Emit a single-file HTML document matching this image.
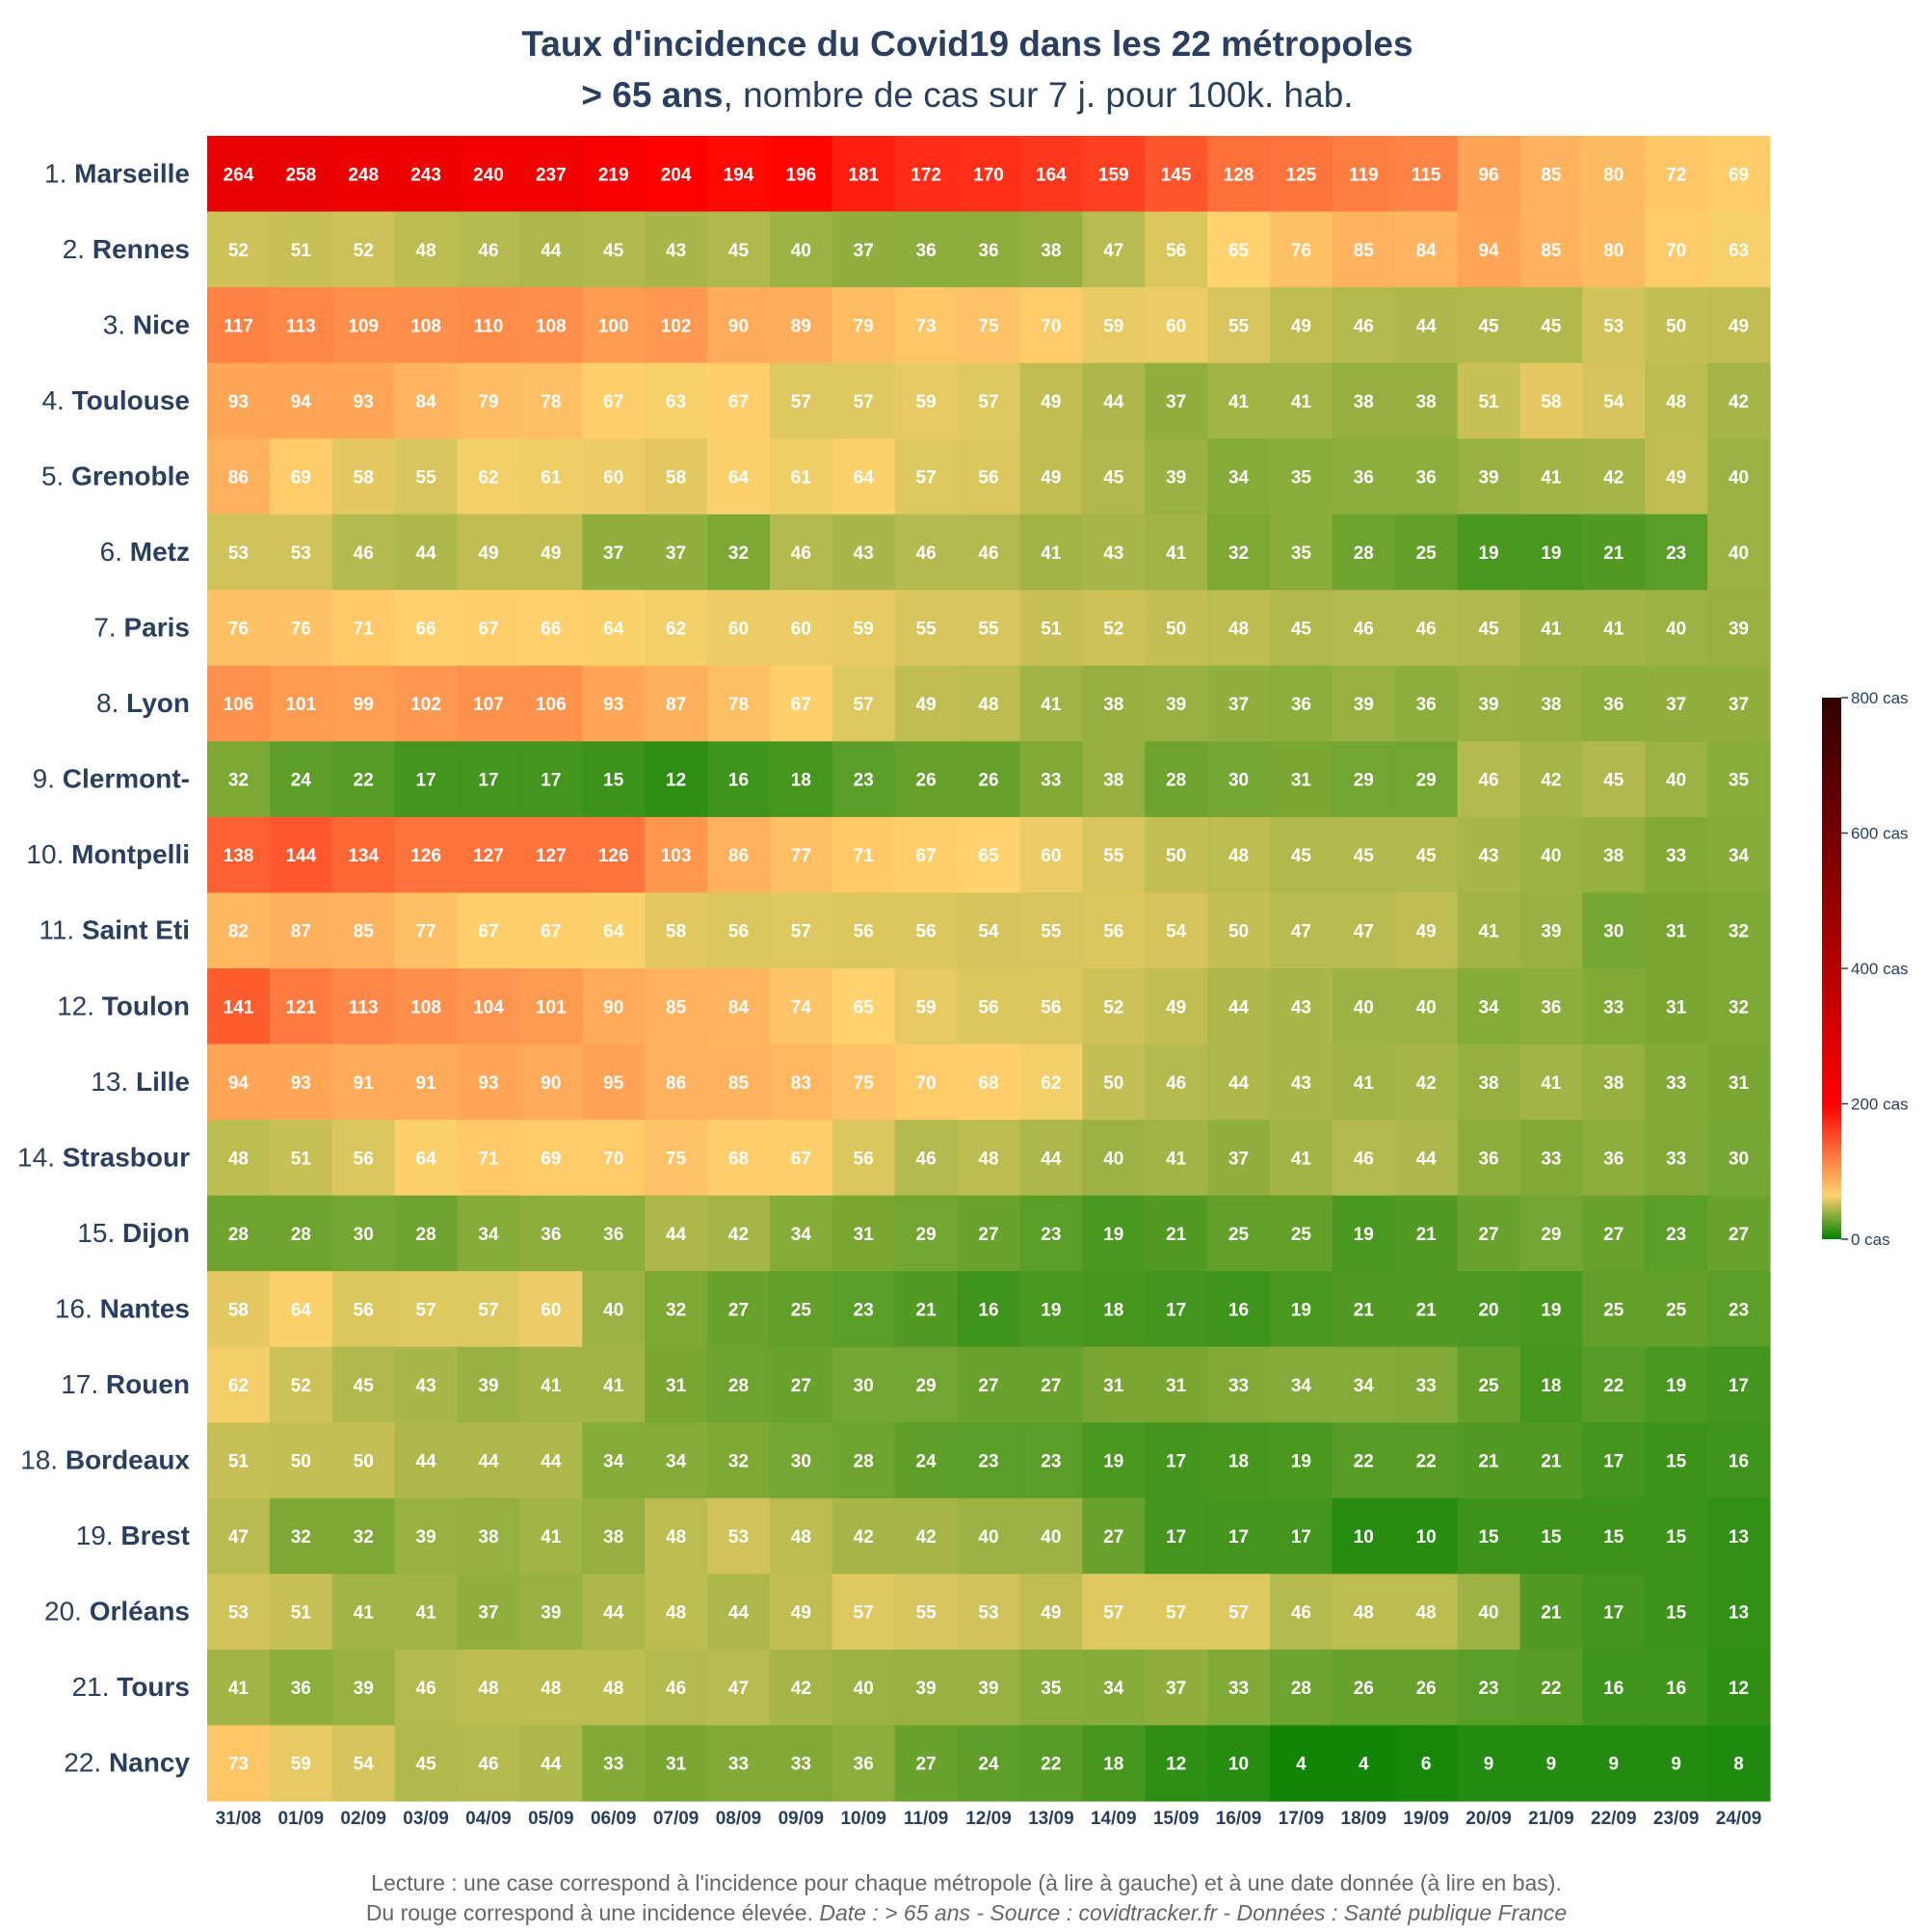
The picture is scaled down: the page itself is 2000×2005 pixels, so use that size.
<!DOCTYPE html>
<html lang="fr">
<head>
<meta charset="utf-8">
<style>
  html,body{margin:0;padding:0;background:#fff;}
  body{width:2000px;height:2000px;overflow:hidden;font-family:"Liberation Sans",sans-serif;}
  svg text{font-family:"Liberation Sans",sans-serif;}
</style>
</head>
<body>
<svg id="chart" width="2000" height="2000" viewBox="0 0 2000 2000" xmlns="http://www.w3.org/2000/svg">
  <rect x="0" y="0" width="2000" height="2000" fill="#fff"/>
  <text x="1004" y="58" text-anchor="middle" font-size="37" font-weight="bold" fill="#2a3f5f">Taux d'incidence du Covid19 dans les 22 métropoles</text>
  <text x="1004" y="111" text-anchor="middle" font-size="37" fill="#2a3f5f"><tspan font-weight="bold">&gt; 65 ans</tspan>, nombre de cas sur 7 j. pour 100k. hab.</text>
  <g id="cells"></g>
  <g id="ylabels"></g>
  <g id="xlabels"></g>
  <defs>
    <linearGradient id="cbgrad" x1="0" y1="1" x2="0" y2="0">
      <stop offset="0" stop-color="rgb(0,128,0)"/>
      <stop offset="0.081" stop-color="rgb(255,210,110)"/>
      <stop offset="0.25" stop-color="rgb(255,0,0)"/>
      <stop offset="0.5" stop-color="rgb(180,0,0)"/>
      <stop offset="1" stop-color="rgb(50,0,0)"/>
    </linearGradient>
  </defs>
  <g id="colorbar">
    <rect x="1891" y="724" width="20" height="562" fill="url(#cbgrad)"/>
  </g>
  <text x="1003" y="1962" text-anchor="middle" font-size="23" fill="#666">Lecture : une case correspond à l'incidence pour chaque métropole (à lire à gauche) et à une date donnée (à lire en bas).</text>
  <text x="1003" y="1993" text-anchor="middle" font-size="23" fill="#666">Du rouge correspond à une incidence élevée.  <tspan font-style="italic">Date : &gt; 65 ans - Source : covidtracker.fr - Données : Santé publique France</tspan></text>
</svg>
<script>
const dates = ["31/08","01/09","02/09","03/09","04/09","05/09","06/09","07/09","08/09","09/09","10/09","11/09","12/09","13/09","14/09","15/09","16/09","17/09","18/09","19/09","20/09","21/09","22/09","23/09","24/09"];
const rankLabels = ["1.","2.","3.","4.","5.","6.","7.","8.","9.","10.","11.","12.","13.","14.","15.","16.","17.","18.","19.","20.","21.","22."];
const cities = ["Marseille","Rennes","Nice","Toulouse","Grenoble","Metz","Paris","Lyon","Clermont-","Montpelli","Saint Eti","Toulon","Lille","Strasbour","Dijon","Nantes","Rouen","Bordeaux","Brest","Orléans","Tours","Nancy"];
const marseille = [264,258,248,243,240,237,219,204,194,196,181,172,170,164,159,145,128,125,119,115,96,85,80,72,69];
const rennes = [52,51,52,48,46,44,45,43,45,40,37,36,36,38,47,56,65,76,85,84,94,85,80,70,63];
const nice = [117,113,109,108,110,108,100,102,90,89,79,73,75,70,59,60,55,49,46,44,45,45,53,50,49];
const toulouse = [93,94,93,84,79,78,67,63,67,57,57,59,57,49,44,37,41,41,38,38,51,58,54,48,42];
const grenoble = [86,69,58,55,62,61,60,58,64,61,64,57,56,49,45,39,34,35,36,36,39,41,42,49,40];
const metz = [53,53,46,44,49,49,37,37,32,46,43,46,46,41,43,41,32,35,28,25,19,19,21,23,40];
const paris = [76,76,71,66,67,66,64,62,60,60,59,55,55,51,52,50,48,45,46,46,45,41,41,40,39];
const lyon = [106,101,99,102,107,106,93,87,78,67,57,49,48,41,38,39,37,36,39,36,39,38,36,37,37];
const clermont = [32,24,22,17,17,17,15,12,16,18,23,26,26,33,38,28,30,31,29,29,46,42,45,40,35];
const montpellier = [138,144,134,126,127,127,126,103,86,77,71,67,65,60,55,50,48,45,45,45,43,40,38,33,34];
const saintEtienne = [82,87,85,77,67,67,64,58,56,57,56,56,54,55,56,54,50,47,47,49,41,39,30,31,32];
const toulon = [141,121,113,108,104,101,90,85,84,74,65,59,56,56,52,49,44,43,40,40,34,36,33,31,32];
const lille = [94,93,91,91,93,90,95,86,85,83,75,70,68,62,50,46,44,43,41,42,38,41,38,33,31];
const strasbourg = [48,51,56,64,71,69,70,75,68,67,56,46,48,44,40,41,37,41,46,44,36,33,36,33,30];
const dijon = [28,28,30,28,34,36,36,44,42,34,31,29,27,23,19,21,25,25,19,21,27,29,27,23,27];
const nantes = [58,64,56,57,57,60,40,32,27,25,23,21,16,19,18,17,16,19,21,21,20,19,25,25,23];
const rouen = [62,52,45,43,39,41,41,31,28,27,30,29,27,27,31,31,33,34,34,33,25,18,22,19,17];
const bordeaux = [51,50,50,44,44,44,34,34,32,30,28,24,23,23,19,17,18,19,22,22,21,21,17,15,16];
const brest = [47,32,32,39,38,41,38,48,53,48,42,42,40,40,27,17,17,17,10,10,15,15,15,15,13];
const orleans = [53,51,41,41,37,39,44,48,44,49,57,55,53,49,57,57,57,46,48,48,40,21,17,15,13];
const tours = [41,36,39,46,48,48,48,46,47,42,40,39,39,35,34,37,33,28,26,26,23,22,16,16,12];
const nancy = [73,59,54,45,46,44,33,31,33,33,36,27,24,22,18,12,10,4,4,6,9,9,9,9,8];
const values = [marseille,rennes,nice,toulouse,grenoble,metz,paris,lyon,clermont,montpellier,saintEtienne,toulon,lille,strasbourg,dijon,nantes,rouen,bordeaux,brest,orleans,tours,nancy];
const cbTicks = [0,200,400,600,800];

const NS = "http://www.w3.org/2000/svg";
const plot = {left:215, right:1837, top:141, bottom:1869};
const cw = (plot.right - plot.left) / dates.length;
const ch = (plot.bottom - plot.top) / cities.length;
function xPos(i){ return plot.left + i * cw; }
function yPos(j){ return plot.top + j * ch; }

const stops = [[0,[0,128,0]],[65,[255,210,110]],[200,[255,0,0]],[400,[180,0,0]],[800,[50,0,0]]];
function colorFor(v){
  for (let k = 0; k < stops.length - 1; k++) {
    const a = stops[k], b = stops[k+1];
    if (v <= b[0]) {
      const t = Math.max(0, (v - a[0]) / (b[0] - a[0]));
      const c = a[1].map((x, n) => Math.round(x + (b[1][n] - x) * t));
      return "rgb(" + c.join(",") + ")";
    }
  }
  return "rgb(50,0,0)";
}
function mk(tag, attrs, parent){
  const e = document.createElementNS(NS, tag);
  for (const k in attrs) e.setAttribute(k, attrs[k]);
  parent.appendChild(e);
  return e;
}

const cellsG = document.getElementById("cells");
values.forEach((row, j) => {
  row.forEach((v, i) => {
    const r = mk("rect", {x: xPos(i), y: yPos(j), width: cw + 0.6, height: ch + 0.6, fill: colorFor(v)}, cellsG);
    
    
    const t = mk("text", {x: xPos(i) + cw/2, y: yPos(j) + ch/2 + 7, "text-anchor": "middle", "font-size": 19, "font-weight": "bold", fill: "#fff"}, cellsG);
    t.textContent = v;
    
    
  });
});

const yl = document.getElementById("ylabels");
cities.forEach((c, j) => {
  const t = mk("text", {x: 197, y: yPos(j) + ch/2 + 9, "text-anchor": "end", "font-size": 28, fill: "#2a3f5f"}, yl);
  
  
  const a = mk("tspan", {}, t); a.textContent = rankLabels[j] + " ";
  const b = mk("tspan", {"font-weight": "bold"}, t); b.textContent = c;
});

const xl = document.getElementById("xlabels");
dates.forEach((d, i) => {
  const t = mk("text", {x: xPos(i) + cw/2, y: 1893, "text-anchor": "middle", "font-size": 19, "font-weight": "bold", fill: "#2a3f5f"}, xl);
  t.textContent = d;
  
  
});

const cb = document.getElementById("colorbar");
const cbTop = 724, cbBot = 1286, cbMax = 800;
cbTicks.forEach(v => {
  const y = cbBot - (v / cbMax) * (cbBot - cbTop);
  const l = mk("line", {x1: 1911, x2: 1918, y1: y, y2: y, stroke: "#2a3f5f", "stroke-width": 1.5}, cb);
  
  
  const t = mk("text", {x: 1921, y: y + 6, "font-size": 17, fill: "#2a3f5f"}, cb);
  t.textContent = v + " cas";
  
  
});
</script>
</body>
</html>
